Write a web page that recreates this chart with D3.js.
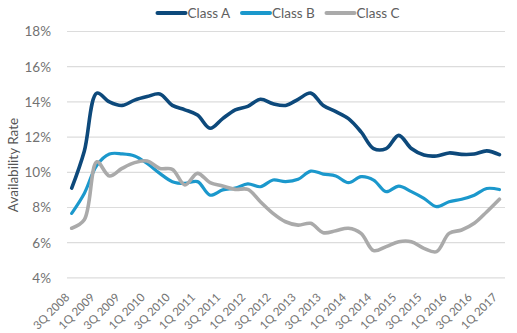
<!DOCTYPE html>
<html>
<head>
<meta charset="utf-8">
<script src="https://cdn.jsdelivr.net/npm/d3@7"></script>
<style>
html,body{margin:0;padding:0;background:#fff;}
svg text{font-family:Lato,"Open Sans",sans-serif;}
</style>
</head>
<body>
<svg id="chart" width="517" height="333"></svg>
<script>
const quarters = ["3Q 2008","4Q 2008","1Q 2009","2Q 2009","3Q 2009","4Q 2009","1Q 2010","2Q 2010","3Q 2010","4Q 2010",
"1Q 2011","2Q 2011","3Q 2011","4Q 2011","1Q 2012","2Q 2012","3Q 2012","4Q 2012","1Q 2013","2Q 2013",
"3Q 2013","4Q 2013","1Q 2014","2Q 2014","3Q 2014","4Q 2014","1Q 2015","2Q 2015","3Q 2015","4Q 2015",
"1Q 2016","2Q 2016","3Q 2016","4Q 2016","1Q 2017"];
const classA = [9.1,11.2,14.5,14.0,13.8,14.1,14.3,14.45,13.8,13.55,13.25,12.5,13.05,13.55,13.75,14.15,13.9,13.8,14.15,14.5,
13.8,13.45,13.05,12.3,11.35,11.35,12.1,11.35,10.98,10.93,11.1,11.02,11.04,11.22,11.0];
const classB = [7.67,8.8,10.4,11.04,11.05,10.93,10.5,9.94,9.47,9.37,9.47,8.7,9.0,9.1,9.34,9.18,9.56,9.47,9.6,10.07,
9.9,9.79,9.41,9.75,9.56,8.9,9.22,8.9,8.52,8.05,8.33,8.47,8.7,9.08,9.02];
const classC = [6.82,7.3,10.6,9.79,10.22,10.55,10.64,10.22,10.17,9.28,9.94,9.41,9.22,9.03,9.03,8.33,7.67,7.19,7.0,7.1,
6.57,6.68,6.82,6.53,5.55,5.78,6.06,6.06,5.68,5.49,6.53,6.72,7.1,7.76,8.47];
const seriesNames = ["Class A","Class B","Class C"];
const seriesColors = ["#0d497b","#1b98cc","#aaaaaa"];
const yTicks = [4,6,8,10,12,14,16,18];
const xLabels = quarters.filter((q,i)=>i%2===0);

const svg = d3.select("#chart");
const x = d3.scalePoint().domain(quarters).range([71.7,499.4]);
const y = d3.scaleLinear().domain([4,18]).range([277.9,31.5]);

// gridlines
svg.append("g").selectAll("line").data(yTicks).join("line")
  .attr("x1",67).attr("x2",505)
  .attr("y1",d=>y(d)).attr("y2",d=>y(d))
  .attr("stroke","#dcdcdc").attr("stroke-width",1.2);

// y labels
const yAxis = d3.axisLeft(y).tickValues(yTicks).tickFormat(d=>d+"%").tickSize(0).tickPadding(0);
const gy = svg.append("g").attr("transform","translate(51,0)").call(yAxis);
gy.select(".domain").remove();
gy.selectAll("text").attr("font-size",13.5).attr("fill","#727272").attr("font-family","Lato,sans-serif");

// x labels
const gx = svg.append("g").attr("transform","translate(-2,298)")
  .call(d3.axisBottom(x).tickValues(xLabels).tickSize(0).tickPadding(0));
gx.select(".domain").remove();
gx.selectAll("text")
  .attr("font-size",11.5).attr("fill","#727272").attr("font-family","Lato,sans-serif")
  .attr("text-anchor","end").attr("dy",0).attr("y",0)
  .attr("transform","rotate(-45)");

// axis title
svg.append("text").attr("transform","translate(18,165) rotate(-90)")
  .attr("text-anchor","middle").attr("font-size",13.5).attr("fill","#555")
  .text("Availability Rate");

// lines
const line = d3.line().x((d,i)=>x(quarters[i])).y(d=>y(d)).curve(d3.curveCatmullRom.alpha(0.5));
const allSeries = [classA,classB,classC];
svg.append("g").selectAll("path").data(allSeries).join("path")
  .attr("d",d=>line(d)).attr("fill","none")
  .attr("stroke",(d,i)=>seriesColors[i])
  .attr("stroke-width",(d,i)=>i===1?3.2:3.6)
  .attr("stroke-linejoin","round").attr("stroke-linecap","round");

// legend
const legX = [157.5,242,326.5];
const leg = svg.append("g").selectAll("g").data(seriesNames).join("g")
  .attr("transform",(d,i)=>`translate(${legX[i]},13)`);
leg.append("line").attr("x1",0).attr("x2",28).attr("y1",0).attr("y2",0)
  .attr("stroke",(d,i)=>seriesColors[i]).attr("stroke-width",4).attr("stroke-linecap","round");
leg.append("text").attr("x",30).attr("y",0).attr("dy","0.36em")
  .attr("font-size",13.5).attr("fill","#606060").text(d=>d);
</script>
</body>
</html>
